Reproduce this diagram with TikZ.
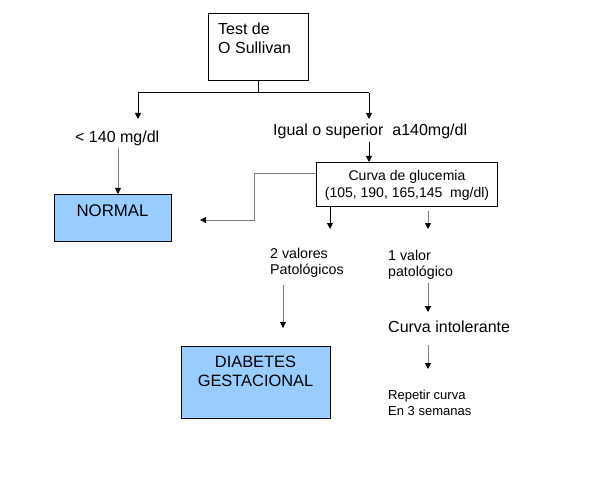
\documentclass[tikz,border=0pt]{standalone}
\usepackage{fontspec}
\setmainfont{Liberation Sans}
\usetikzlibrary{arrows.meta}
\definecolor{lblue}{HTML}{99CCFF}
\definecolor{lgray}{HTML}{7F7F7F}
\begin{document}
\begin{tikzpicture}[x=1pt,y=-1pt,
  box/.style={draw=black, line width=1pt, inner sep=0pt},
  bluebox/.style={box, fill=lblue},
  txt/.style={inner sep=0pt, text=black},
  big/.style={font=\fontsize{16}{19}\selectfont},
  mid/.style={font=\fontsize{14}{17}\selectfont},
  sml/.style={font=\fontsize{14.2}{16}\selectfont},
  tiny/.style={font=\fontsize{13}{16}\selectfont},
  blk/.style={line width=1pt, draw=black},
  arr/.style={blk, -{Triangle[width=6pt,length=6pt,color=black]}},
  garr/.style={arr, draw=lgray},
  gline/.style={line width=1pt, draw=lgray}]
\useasboundingbox (0,0) rectangle (592,484);
% boxes
\node[box, minimum width=100pt, minimum height=67pt] (test) at (258,47.5) {};
\node[txt, big, align=left, anchor=north west] (testt) at (218,22.5) {Test de\\O Sullivan};
\node[bluebox, minimum width=117pt, minimum height=47pt] (normal) at (112.5,218) {};
\node[txt, font=\fontsize{16.8}{19}\selectfont, anchor=north] (normalt) at (112.5,205) {NORMAL};
\node[box, minimum width=181pt, minimum height=43pt] (curva) at (406.5,184.5) {};
\node[txt, mid, align=center, anchor=north] (curvat) at (407,170) {Curva de glucemia\\(105, 190, 165,145~ mg/dl)};
\node[bluebox, minimum width=149pt, minimum height=72pt] (diab) at (256,382) {};
\node[txt, font=\fontsize{16.4}{19}\selectfont, align=center, anchor=north] (diabt) at (255.5,355.5) {DIABETES\\GESTACIONAL};
% labels
\node[txt, big, anchor=north west] (lt) at (75,131) {< 140 mg/dl};
\node[txt, big, anchor=north west] (ge) at (273,124) {Igual o superior~ a140mg/dl};
\node[txt, sml, align=left, anchor=north west] (dos) at (270,248) {2 valores\\Patológicos};
\node[txt, sml, align=left, anchor=north west] (uno) at (388,250.5) {1 valor\\patológico};
\node[txt, big, anchor=north west] (ci) at (388,321) {Curva intolerante};
\node[txt, tiny, align=left, anchor=north west] (rep) at (388,389.5) {Repetir curva\\En 3 semanas};
% coordinates
\coordinate (j) at (test.south |- 0,93);
\coordinate (jl) at (138,93);
\coordinate (jr) at (369,93);
\coordinate (ltend) at (138,119);
\coordinate (geend) at (369,119);
\coordinate (ltout) at (118,148);
\coordinate (geout) at (369,142);
\coordinate (cin) at (369,162);
\coordinate (cl) at (316,174);
\coordinate (ntarget) at (200,220);
\coordinate (cb1) at (330,206);
\coordinate (cb1e) at (330,229);
\coordinate (cb2) at (428,211);
\coordinate (cb2e) at (428,229);
\coordinate (dosout) at (283,285);
\coordinate (diabin) at (283,328);
\coordinate (unoout) at (428,283);
\coordinate (ciin) at (428,312);
\coordinate (ciout) at (428,345);
\coordinate (repin) at (428,369);
% connectors
\draw[blk] (test.south) -- (j);
\draw[blk] (jl) -- (jr);
\draw[arr] (jl) -- (ltend);
\draw[arr] (jr) -- (geend);
\draw[garr] (ltout) -- (ltout |- normal.north);
\draw[arr] (geout) -- (cin);
\draw[garr] (cl) -- (254,174) -- (254,220) -- (ntarget);
\draw[arr] (cb1) -- (cb1e);
\draw[garr] (cb2) -- (cb2e);
\draw[garr] (dosout) -- (diabin);
\draw[garr] (unoout) -- (ciin);
\draw[garr] (ciout) -- (repin);
\end{tikzpicture}
\end{document}
